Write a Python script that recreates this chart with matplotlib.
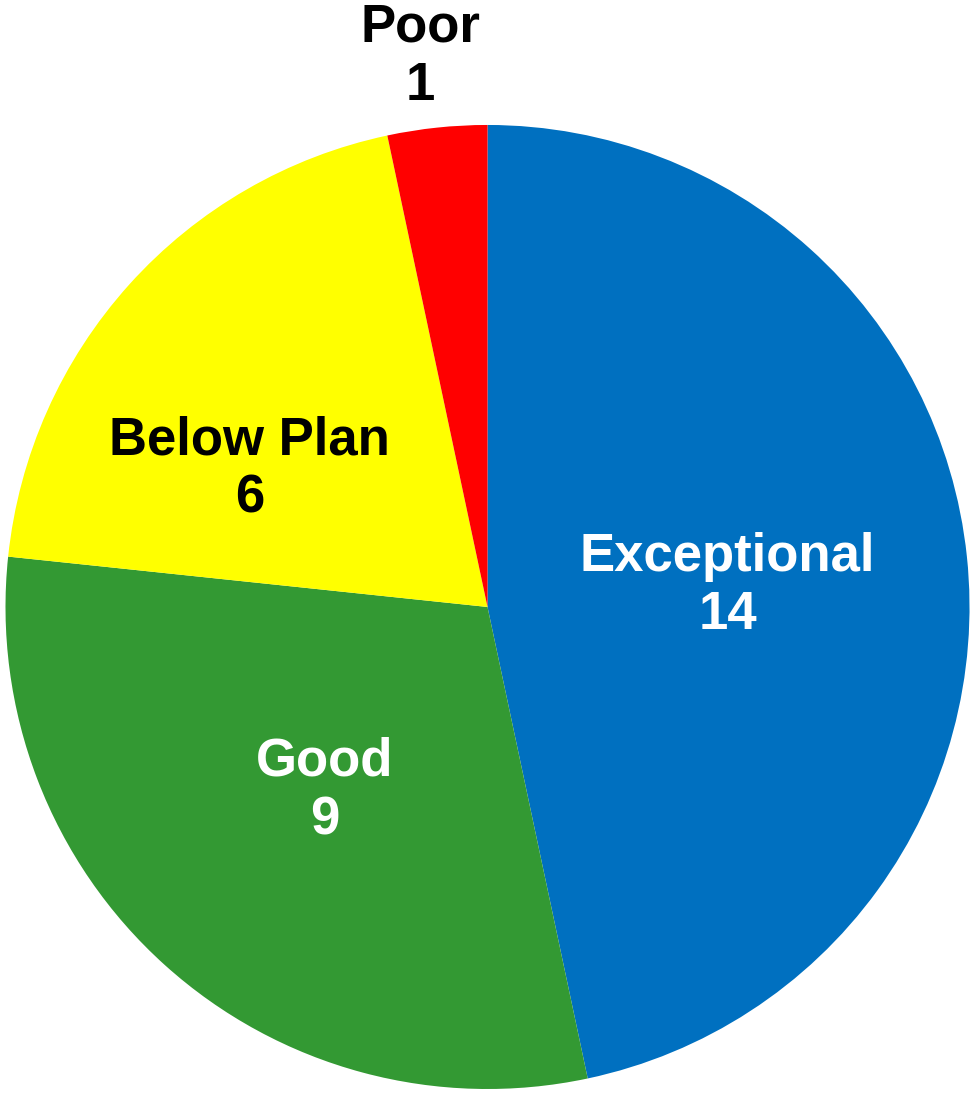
import matplotlib
matplotlib.use("Agg")
import matplotlib.pyplot as plt
import numpy as np

# Данные
categories = ["Exceptional", "Good", "Below Plan", "Poor"]
counts = [14, 9, 6, 1]
colors = ["#0070C0", "#339933", "#FFFF00", "#FF0000"]
text_colors = ["white", "white", "black", "black"]

# Ручное положение подписей (угол в градусах, доля радиуса)
label_angles = [5.0, -131.5, 150, 97]
label_dists = [0.50, 0.51, 0.57, 1.15]

plt.rcParams["font.family"] = ["Liberation Sans", "DejaVu Sans"]

fig = plt.figure(figsize=(9.72, 10.94), dpi=100)
ax = fig.add_axes([0.00566, 0.00457, 0.9918, 0.8812])

wedges, texts = ax.pie(
    counts,
    colors=colors,
    startangle=90,
    counterclock=False,
    radius=1,
    labels=[f"{c}\n{n}" for c, n in zip(categories, counts)],
    labeldistance=0.5,
    wedgeprops={"linewidth": 0},
    textprops={"fontsize": 38, "fontweight": "bold", "ha": "center", "va": "center"},
)

# Переставляем подписи как в оригинале
for t, col, ang, d in zip(texts, text_colors, label_angles, label_dists):
    a = np.deg2rad(ang)
    t.set_position((d * np.cos(a), d * np.sin(a)))
    t.set_color(col)
    t.set_ha("center")
    t.set_va("center")
    t.set_linespacing(1.22)

ax.set_xlim(-1, 1)
ax.set_ylim(-1, 1)
ax.set_aspect("equal")
ax.axis("off")

fig.savefig("out.png", dpi=100)
